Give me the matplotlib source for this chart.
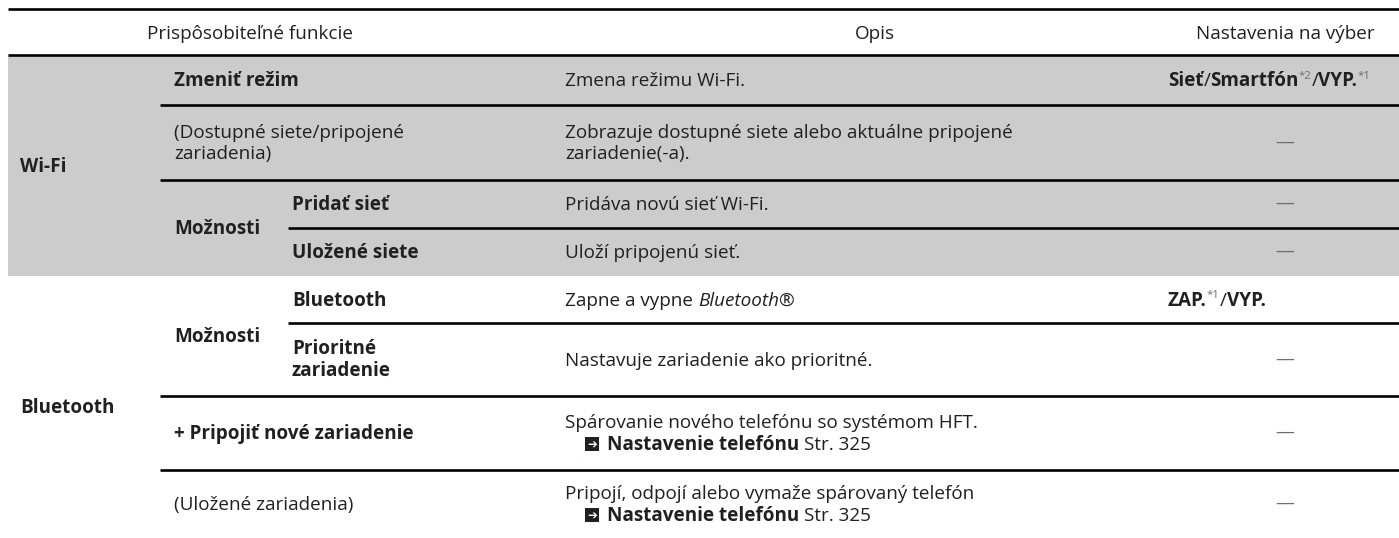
import matplotlib.pyplot as plt
from matplotlib.patches import Rectangle

plt.rcParams['font.family'] = ['Open Sans', 'DejaVu Sans']

# Data
headers = ["Prispôsobiteľné funkcie", "Opis", "Nastavenia na výber"]
groups = ["Wi-Fi", "Bluetooth"]
group_rows = [(0, 4), (4, 8)]
sub_labels = ["Možnosti", "Možnosti"]
sub_rows = [(2, 4), (4, 6)]
items = [
    ["Zmeniť režim"],
    ["(Dostupné siete/pripojené", "zariadenia)"],
    ["Pridať sieť"],
    ["Uložené siete"],
    ["Bluetooth"],
    ["Prioritné", "zariadenie"],
    ["+ Pripojiť nové zariadenie"],
    ["(Uložené zariadenia)"],
]
item_bold = [True, False, True, True, True, True, True, False]
descriptions = [
    ["Zmena režimu Wi-Fi."],
    ["Zobrazuje dostupné siete alebo aktuálne pripojené", "zariadenie(-a)."],
    ["Pridáva novú sieť Wi-Fi."],
    ["Uloží pripojenú sieť."],
    ["Zapne a vypne "],
    ["Nastavuje zariadenie ako prioritné."],
    ["Spárovanie nového telefónu so systémom HFT."],
    ["Pripojí, odpojí alebo vymaže spárovaný telefón"],
]
desc_italic_tail = [None, None, None, None, "Bluetooth®", None, None, None]
references = [None, None, None, None, None, None,
              ("Nastavenie telefónu", "Str. 325"), ("Nastavenie telefónu", "Str. 325")]
settings = [
    [("Sieť", "b"), ("/", "n"), ("Smartfón", "b"), ("*2", "s"), ("/", "n"), ("VYP.", "b"), ("*1", "s")],
    "—", "—", "—",
    [("ZAP.", "b"), ("*1", "s"), ("/", "n"), ("VYP.", "b")],
    "—", "—", "—",
]

# Layout (pixels)
W, H = 1399, 538
row_edges = [55, 105, 180, 228, 276, 323, 396, 470, 538]
wifi_rows = 4
TXT = '#231f20'
GRAY = '#cccccc'
FS = 13.6
LINE_H = 22
lw = 1.9
X_LEFT = 8
X_GROUP = 20
X_ITEM = 174
X_SUBITEM = 292
X_DESC = 565
X_SET = 1168
X_DASH = 1285

fig = plt.figure(figsize=(W / 100, H / 100), dpi=100)
ax = fig.add_axes([0, 0, 1, 1])
ax.set_xlim(0, W)
ax.set_ylim(H, 0)
ax.axis('off')
renderer = fig.canvas.get_renderer()

# gray background for the Wi-Fi block
ax.add_patch(Rectangle((X_LEFT, row_edges[0]), W - X_LEFT, row_edges[wifi_rows] - row_edges[0],
                       color=GRAY, zorder=0, lw=0))

# rules
ax.hlines(9, X_LEFT, W, color='black', lw=lw)
ax.hlines(row_edges[0], X_LEFT, W, color='black', lw=lw)
line_starts = [160, 160, 288, None, 288, 160, 160]
for y, x0 in zip(row_edges[1:-1], line_starts):
    if x0 is not None:
        ax.hlines(y, x0, W, color='black', lw=lw)


def segs(x, y, parts, ha='left'):
    """Draw a run of (text, kind) pieces on one baseline."""
    objs = []
    for s, kind in parts:
        kw = dict(fontsize=FS, color=TXT, va='baseline')
        dy = 0
        if kind == 'b':
            kw['fontweight'] = 'bold'
        elif kind == 'i':
            kw['fontstyle'] = 'italic'
        elif kind == 's':
            kw['fontsize'] = FS * 0.6
            kw['color'] = '#6d6e71'
            dy = -7
        t = ax.text(0, y + dy, s, **kw)
        objs.append(t)
    widths = [t.get_window_extent(renderer).width for t in objs]
    total = sum(widths)
    cx = x - total / 2 if ha == 'center' else x
    for t, w in zip(objs, widths):
        t.set_x(cx)
        cx += w
    return cx


BASE = 6  # baseline offset from visual centre

# header
header_x = [250, 875, X_DASH]
for h, hx in zip(headers, header_x):
    segs(hx, 33 + BASE, [(h, 'n')], ha='center')

# group labels
for g, (a, b) in zip(groups, group_rows):
    yc = (row_edges[a] + row_edges[b]) / 2
    segs(X_GROUP, yc + BASE, [(g, 'b')])

# sub labels
for s, (a, b) in zip(sub_labels, sub_rows):
    yc = (row_edges[a] + row_edges[b]) / 2
    segs(X_ITEM, yc + BASE, [(s, 'b')])

for i in range(len(items)):
    top, bot = row_edges[i], row_edges[i + 1]
    yc = (top + bot) / 2
    in_sub = any(a <= i < b for a, b in sub_rows)
    ix = X_SUBITEM if in_sub else X_ITEM

    lines = items[i]
    y0 = yc - (len(lines) - 1) * LINE_H / 2
    for k, ln in enumerate(lines):
        segs(ix, y0 + k * LINE_H + BASE, [(ln, 'b' if item_bold[i] else 'n')])

    dlines = list(descriptions[i])
    nlines = len(dlines) + (1 if references[i] else 0)
    y0 = yc - (nlines - 1) * LINE_H / 2
    for k, ln in enumerate(dlines):
        parts = [(ln, 'n')]
        if k == 0 and desc_italic_tail[i]:
            parts.append((desc_italic_tail[i], 'i'))
        segs(X_DESC, y0 + k * LINE_H + BASE, parts)
    if references[i]:
        yr = y0 + len(dlines) * LINE_H
        ax.add_patch(Rectangle((X_DESC + 20, yr - 7), 14, 14, color=TXT, lw=0))
        ax.text(X_DESC + 27, yr, '➔', color='white', fontsize=8.5, ha='center', va='center',
                family='DejaVu Sans', fontweight='bold')
        name, page = references[i]
        segs(X_DESC + 42, yr + BASE, [(name + ' ', 'b'), (page, 'n')])

    st = settings[i]
    if st == "—":
        ax.text(X_DASH, yc, '—', color='#6d6e71', fontsize=FS, ha='center', va='center')
    else:
        segs(X_SET, yc + BASE, st)

fig.savefig('out.png', dpi=100)
